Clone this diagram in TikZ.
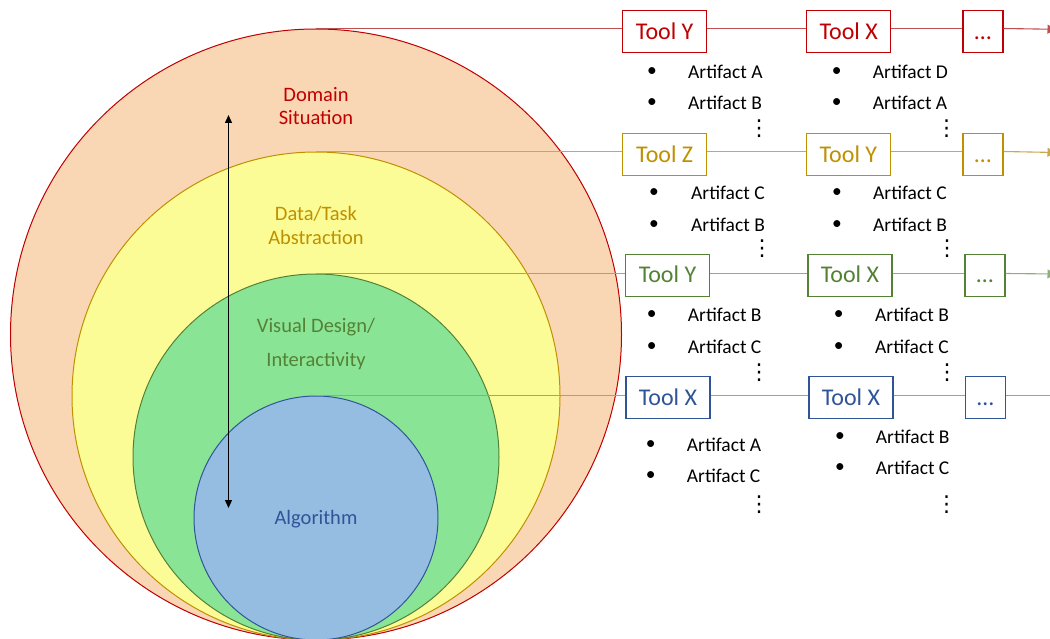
\documentclass[tikz,border=0pt]{standalone}
\usepackage{fontspec}
\setmainfont{Carlito}
\newfontfamily\symfont{DejaVu Sans}
\usetikzlibrary{arrows.meta}
\definecolor{cRed}{HTML}{C00000}
\definecolor{cGold}{HTML}{BF9000}
\definecolor{cGreen}{HTML}{548235}
\definecolor{cBlue}{HTML}{2F5597}
\definecolor{fPeach}{HTML}{FAD7B4}
\definecolor{fYellow}{HTML}{FCFC96}
\definecolor{fGreen}{HTML}{8AE496}
\definecolor{fBlue}{HTML}{95BDE2}
\definecolor{lRed}{HTML}{C05050}
\definecolor{lGold}{HTML}{C8A850}
\definecolor{lGreen}{HTML}{8CB078}
\definecolor{lBlue}{HTML}{8AA2C8}
\begin{document}
\begin{tikzpicture}[x=1pt,y=-1pt,
  ring/.style={circle, inner sep=0pt, line width=1pt},
  toolbox/.style={draw, line width=1.3pt, fill=white, minimum width=84pt, minimum height=42pt,
     inner sep=0pt, text height=15.5pt, text depth=0pt, font=\fontsize{24}{28}\selectfont},
  morebox/.style={toolbox, minimum width=40pt},
  link/.style={line width=1.1pt},
  endarrow/.style={link, -{Triangle[length=8pt,width=9pt]}},
  bul/.style={inner sep=0pt, font=\fontsize{19.5}{23}\selectfont},
  art/.style={anchor=base west, inner sep=0pt, font=\fontsize{19.5}{23}\selectfont},
  vd/.style={inner sep=0pt, font=\symfont\fontsize{22}{22}\selectfont},
  lab/.style={align=center, inner sep=0pt}
]
\useasboundingbox (0,0) rectangle (1050,639);
\clip (0,0) rectangle (1050,639);

% circles
\node[ring, draw=cRed, fill=fPeach, minimum size=611pt] (dom) at (316,334.5) {};
\node[ring, draw=cGold, fill=fYellow, minimum size=488pt] (dat) at (316,396) {};
\node[ring, draw=cGreen, fill=fGreen, minimum size=366pt] (vis) at (316,457) {};
\node[ring, draw=cBlue, fill=fBlue, minimum size=244pt] (alg) at (316,518) {};

% circle labels
\node[lab, text=cRed, font=\fontsize{20.5}{23}\selectfont] (domlab) at (316,106) {Domain\\Situation};
\node[lab, text=cGold, font=\fontsize{20.5}{24}\selectfont] (datlab) at (316,225.5) {Data/Task\\Abstraction};
\node[lab, text=cGreen, font=\fontsize{20.5}{33.5}\selectfont] (vislab) at (316,344) {Visual Design/\\Interactivity};
\node[lab, text=cBlue, font=\fontsize{20.5}{24}\selectfont] (alglab) at (316,519) {Algorithm};

% double arrow
\coordinate (atop) at (228.5,115);
\coordinate (abot) at (228.5,508);
\draw[line width=1.3pt, {Triangle[length=8pt,width=7pt]}-{Triangle[length=8pt,width=7pt]}] (atop) -- (abot);

% tool boxes
\node[toolbox, draw=cRed, text=cRed] (t1a) at (664.7,31.7) {Tool Y};
\node[toolbox, draw=cRed, text=cRed] (t1b) at (848.7,31.7) {Tool X};
\node[morebox, draw=cRed, text=cRed] (t1c) at (983,31.7) {…};
\node[toolbox, draw=cGold, text=cGold] (t2a) at (664.7,154.5) {Tool Z};
\node[toolbox, draw=cGold, text=cGold] (t2b) at (848.4,154.5) {Tool Y};
\node[morebox, draw=cGold, text=cGold] (t2c) at (983,154.5) {…};
\node[toolbox, draw=cGreen, text=cGreen] (t3a) at (667.5,275.2) {Tool Y};
\node[toolbox, draw=cGreen, text=cGreen] (t3b) at (850,275.2) {Tool X};
\node[morebox, draw=cGreen, text=cGreen] (t3c) at (985,275.2) {…};
\node[toolbox, draw=cBlue, text=cBlue] (t4a) at (668,397.8) {Tool X};
\node[toolbox, draw=cBlue, text=cBlue] (t4b) at (851,397.8) {Tool X};
\node[morebox, draw=cBlue, text=cBlue] (t4c) at (985.5,397.8) {…};

% right-edge ends
\coordinate (e1) at (1055.5,29.3);
\coordinate (e2) at (1055.5,152.5);
\coordinate (e3) at (1055.5,274);
\coordinate (e4) at (1050,395.5);

% connectors
\draw[link, lRed] (dom.north) -- (dom.north -| t1a.west);
\draw[link, lRed] (t1a.east |- dom.north) -- (t1b.west |- dom.north);
\draw[link, lRed] (t1b.east |- dom.north) -- (t1c.west |- dom.north);
\draw[endarrow, lRed] (t1c.east |- dom.north) -- (e1);

\draw[link, lGold] (dat.north) -- (dat.north -| t2a.west);
\draw[link, lGold] (t2a.east |- dat.north) -- (t2b.west |- dat.north);
\draw[link, lGold] (t2b.east |- dat.north) -- (t2c.west |- dat.north);
\draw[endarrow, lGold] (t2c.east |- dat.north) -- (e2);

\draw[link, lGreen] (vis.north) -- (vis.north -| t3a.west);
\draw[link, lGreen] (t3a.east |- vis.north) -- (t3b.west |- vis.north);
\draw[link, lGreen] (t3b.east |- vis.north) -- (t3c.west |- vis.north);
\draw[endarrow, lGreen] (t3c.east |- vis.north) -- (e3);

\draw[link, lBlue] (alg.north) -- (alg.north -| t4a.west);
\draw[link, lBlue] (t4a.east |- alg.north) -- (t4b.west |- alg.north);
\draw[link, lBlue] (t4b.east |- alg.north) -- (t4c.west |- alg.north);
\draw[link, lBlue] (t4c.east |- alg.north) -- (e4);

% artifacts row 1
\node[bul] (b11) at (652,72) {•};   \node[art] (a11) at (688,78.5) {Artifact A};
\node[bul] (b12) at (652,103) {•};  \node[art] (a12) at (688,109.5) {Artifact B};
\node[vd] (d1a) at (759,129) {⋮};
\node[bul] (b13) at (836.7,72) {•}; \node[art] (a13) at (872.7,78.5) {Artifact D};
\node[bul] (b14) at (836.7,103) {•};\node[art] (a14) at (872.7,109.5) {Artifact A};
\node[vd] (d1b) at (946.7,129) {⋮};

% artifacts row 2
\node[bul] (b21) at (654,192.7) {•}; \node[art] (a21) at (691,199.2) {Artifact C};
\node[bul] (b22) at (654,225) {•};   \node[art] (a22) at (691,231.5) {Artifact B};
\node[vd] (d2a) at (762,249) {⋮};
\node[bul] (b23) at (837,192.7) {•}; \node[art] (a23) at (873,199.2) {Artifact C};
\node[bul] (b24) at (837,225) {•};   \node[art] (a24) at (873,231.5) {Artifact B};
\node[vd] (d2b) at (947,249) {⋮};

% artifacts row 3
\node[bul] (b31) at (651.7,315) {•};   \node[art] (a31) at (687.7,321.5) {Artifact B};
\node[bul] (b32) at (651.7,346.7) {•}; \node[art] (a32) at (687.7,353.2) {Artifact C};
\node[vd] (d3a) at (759,373) {⋮};
\node[bul] (b33) at (838.7,315) {•};   \node[art] (a33) at (875,321.5) {Artifact B};
\node[bul] (b34) at (838.7,346.7) {•}; \node[art] (a34) at (875,353.2) {Artifact C};
\node[vd] (d3b) at (947,373) {⋮};

% artifacts row 4
\node[bul] (b41) at (650.7,444.7) {•}; \node[art] (a41) at (686.7,451.2) {Artifact A};
\node[bul] (b42) at (650.7,476) {•};   \node[art] (a42) at (686.7,482.5) {Artifact C};
\node[vd] (d4a) at (759,505) {⋮};
\node[bul] (b43) at (840,436.7) {•};   \node[art] (a43) at (875.7,443.2) {Artifact B};
\node[bul] (b44) at (840,468.3) {•};   \node[art] (a44) at (875.7,474.8) {Artifact C};
\node[vd] (d4b) at (946.7,505) {⋮};
\end{tikzpicture}
\end{document}
